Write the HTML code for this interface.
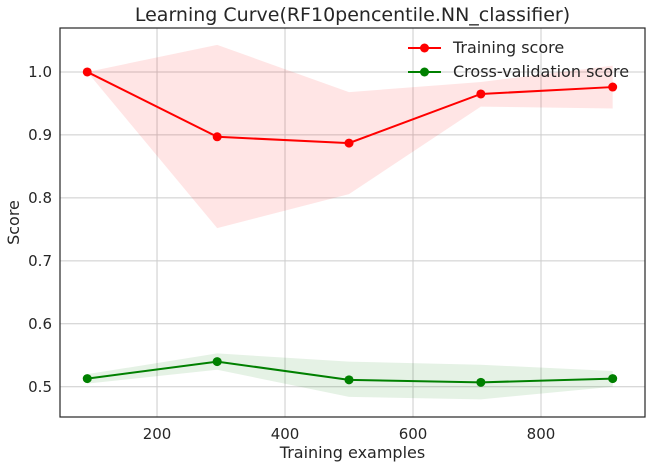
<!DOCTYPE html>
<html><head><meta charset="utf-8"><style>
body{margin:0;background:#fff;font-family:"Liberation Sans","DejaVu Sans",sans-serif;}
svg text{font-family:"DejaVu Sans","Liberation Sans",sans-serif;fill:#262626;}
</style></head><body>
<svg id="chart" width="647" height="467" xmlns="http://www.w3.org/2000/svg"></svg>
<script>
const trainSizes=[91,294,500,706,912];
const trainMean=[1.0,0.897,0.887,0.965,0.976];
const trainUpper=[1.0,1.043,0.968,0.984,1.01];
const trainLower=[1.0,0.752,0.806,0.945,0.942];
const cvMean=[0.513,0.540,0.511,0.507,0.513];
const cvUpper=[0.520,0.553,0.540,0.535,0.525];
const cvLower=[0.505,0.527,0.484,0.480,0.500];
const xTicks=[200,400,600,800];
const yTicks=[0.5,0.6,0.7,0.8,0.9,1.0];
const yTickLabels=["0.5","0.6","0.7","0.8","0.9","1.0"];

const L=60,R=645,T=28,B=417;
const xMin=48.4,xMax=962.5,yMin=0.452,yMax=1.0698;
const X=v=>L+(v-xMin)/(xMax-xMin)*(R-L);
const Y=v=>B-(v-yMin)/(yMax-yMin)*(B-T);
const svg=document.getElementById('chart');
const NS='http://www.w3.org/2000/svg';
function mk(tag,attrs,parent){const e=document.createElementNS(NS,tag);for(const k in attrs)e.setAttribute(k,attrs[k]);(parent||svg).appendChild(e);return e;}

xTicks.forEach(t=>{const g=mk('line',{x1:X(t),x2:X(t),y1:T,y2:B,stroke:'#cccccc','stroke-width':1});

const tx=mk('text',{x:X(t),y:B+22,'font-size':15,'text-anchor':'middle'});tx.textContent=t;
});
yTicks.forEach((t,i)=>{const g=mk('line',{x1:L,x2:R,y1:Y(t),y2:Y(t),stroke:'#cccccc','stroke-width':1});

const tx=mk('text',{x:L-8,y:Y(t)+5,'font-size':15,'text-anchor':'end'});tx.textContent=yTickLabels[i];
});

function band(up,lo,color,name){let d='';trainSizes.forEach((s,i)=>{d+=(i?'L':'M')+X(s)+','+Y(up[i]);});
for(let i=trainSizes.length-1;i>=0;i--)d+='L'+X(trainSizes[i])+','+Y(lo[i]);d+='Z';
const p=mk('path',{d:d,fill:color,'fill-opacity':0.1});}
band(trainUpper,trainLower,'red','training-score-band');
band(cvUpper,cvLower,'green','cv-score-band');

function series(vals,color,name){const pts=trainSizes.map((s,i)=>X(s)+','+Y(vals[i])).join(' ');
const pl=mk('polyline',{points:pts,fill:'none',stroke:color,'stroke-width':2});

trainSizes.forEach((s,i)=>{const c=mk('circle',{cx:X(s),cy:Y(vals[i]),r:4.5,fill:color});
});}
series(trainMean,'red','training-score');
series(cvMean,'green','cv-score');

const fr=mk('rect',{x:L,y:T,width:R-L,height:B-T,fill:'none',stroke:'#262626','stroke-width':1.2});


const ti=mk('text',{x:(L+R)/2,y:21,'font-size':19,'text-anchor':'middle'});ti.textContent='Learning Curve(RF10pencentile.NN_classifier)';

const xl=mk('text',{x:(L+R)/2,y:458,'font-size':16,'text-anchor':'middle'});xl.textContent='Training examples';

const yl=mk('text',{x:19,y:(T+B)/2,'font-size':16,'text-anchor':'middle',transform:'rotate(-90 19 '+(T+B)/2+')'});yl.textContent='Score';


[['Training score','red',48],['Cross-validation score','green',72]].forEach(([lab,c,y])=>{
const g=mk('g',{});
mk('line',{x1:408,x2:441,y1:y,y2:y,stroke:c,'stroke-width':2},g);
mk('circle',{cx:424.5,cy:y,r:4.5,fill:c},g);
const t=mk('text',{x:453,y:y+5,'font-size':16},g);t.textContent=lab;});
</script>
</body></html>
